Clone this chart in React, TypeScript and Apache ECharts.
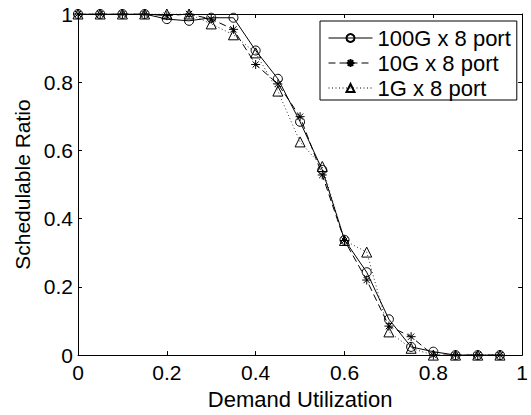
import React, { useEffect, useRef } from "react";
import * as echarts from "echarts";

const utilization = [0, 0.05, 0.1, 0.15, 0.2, 0.25, 0.3, 0.35, 0.4, 0.45, 0.5, 0.55, 0.6, 0.65, 0.7, 0.75, 0.8, 0.85, 0.9, 0.95];
const ratio100G = [1, 1, 1, 1, 0.985, 0.98, 0.989, 0.989, 0.893, 0.81, 0.684, 0.543, 0.338, 0.243, 0.105, 0.024, 0.01, 0, 0, 0];
const ratio10G = [1, 1, 1, 1, 0.995, 1, 0.985, 0.955, 0.852, 0.795, 0.699, 0.528, 0.336, 0.22, 0.085, 0.054, 0, 0, 0, 0];
const ratio1G = [1, 1, 1, 1, 1, 1, 0.971, 0.939, 0.886, 0.774, 0.625, 0.553, 0.336, 0.302, 0.068, 0.02, 0, 0, 0, 0];
const seriesNames = ["100G x 8 port", "10G x 8 port", "1G x 8 port"];
const xTicks = [0, 0.2, 0.4, 0.6, 0.8, 1];
const yTicks = [0, 0.2, 0.4, 0.6, 0.8, 1];

const FONT = "'Liberation Sans', Arial, Helvetica, sans-serif";
const STAR = "path://M0,-5L0,5M-5,0L5,0M-3.5,-3.5L3.5,3.5M-3.5,3.5L3.5,-3.5";

export default function App() {
  const ref = useRef<HTMLDivElement>(null);
  useEffect(() => {
    if (!ref.current) return;
    const chart = echarts.init(ref.current, null, { renderer: "svg" });
    const pairs = (ys: number[]) => utilization.map((x, i) => [x, ys[i]]);
    const axisCommon = {
      type: "value" as const,
      min: 0,
      max: 1,
      interval: 0.2,
      splitLine: { show: false },
      axisLine: { show: true, onZero: false, lineStyle: { color: "#000", width: 1 } },
      axisTick: { show: true, inside: true, length: 4, lineStyle: { color: "#000", width: 1 } },
    };
    const tickFmt = (v: number) => {
      const t = xTicks.concat(yTicks).find((k) => Math.abs(k - v) < 1e-9);
      return t === undefined ? "" : String(t);
    };
    chart.setOption({
      animation: false,
      backgroundColor: "#fff",
      textStyle: { fontFamily: FONT },
      grid: { left: 78, top: 14, width: 444.5, height: 343 },
      legend: {
        show: true,
        orient: "vertical",
        left: 320,
        top: 21,
        data: seriesNames,
        backgroundColor: "#fff",
        borderColor: "#000",
        borderWidth: 1,
        borderRadius: 0,
        padding: [6, 6, 1, 8],
        itemGap: 3,
        itemWidth: 44,
        itemHeight: 10,
        selectedMode: false,
        lineStyle: { width: 1 },
        textStyle: { fontSize: 22, color: "#000", fontFamily: FONT },
      },
      xAxis: [
        {
          ...axisCommon,
          position: "bottom",
          name: "Demand Utilization",
          nameLocation: "middle",
          nameGap: 24,
          nameTextStyle: { fontSize: 22, color: "#000", fontFamily: FONT },
          axisLabel: { show: true, fontSize: 21, color: "#000", margin: 7, fontFamily: FONT, formatter: tickFmt },
        },
        { ...axisCommon, position: "top", axisLabel: { show: false } },
      ],
      yAxis: [
        {
          ...axisCommon,
          position: "left",
          name: "Schedulable Ratio",
          nameLocation: "middle",
          nameGap: 39,
          nameTextStyle: { fontSize: 21, color: "#000", fontFamily: FONT },
          axisLabel: { show: true, fontSize: 21, color: "#000", margin: 5, fontFamily: FONT, formatter: tickFmt },
        },
        { ...axisCommon, position: "right", axisLabel: { show: false } },
      ],
      series: [
        {
          name: seriesNames[0],
          type: "line",
          data: pairs(ratio100G),
          symbol: "circle",
          symbolSize: 9,
          showAllSymbol: true,
          lineStyle: { color: "#000", width: 1, type: "solid" },
          itemStyle: { color: "none", borderColor: "#000", borderWidth: 1 },
          z: 3,
        },
        {
          name: seriesNames[1],
          type: "line",
          data: pairs(ratio10G),
          symbol: STAR,
          symbolSize: 9,
          showAllSymbol: true,
          lineStyle: { color: "#000", width: 1, type: [7, 4] },
          itemStyle: { color: "none", borderColor: "#000", borderWidth: 1 },
          z: 4,
        },
        {
          name: seriesNames[2],
          type: "line",
          data: pairs(ratio1G),
          symbol: "triangle",
          symbolSize: 10,
          showAllSymbol: true,
          lineStyle: { color: "#000", width: 0.8, type: [1, 2.5] },
          itemStyle: { color: "none", borderColor: "#000", borderWidth: 1 },
          z: 5,
        },
      ],
    });
    return () => chart.dispose();
  }, []);
  return <div ref={ref} style={{ position: "fixed", left: 0, top: 0, width: 531, height: 415 }} />;
}
